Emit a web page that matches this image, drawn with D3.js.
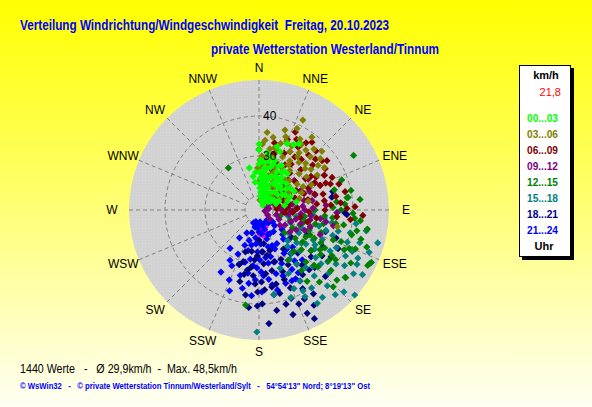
<!DOCTYPE html>
<html>
<head>
<meta charset="utf-8">
<script src="https://cdn.jsdelivr.net/npm/d3@7"></script>
<style>
body { margin: 0; }
svg { display: block; font-family: "Liberation Sans", Arial, sans-serif; }
</style>
</head>
<body>
<svg id="chart" width="592" height="407"></svg>
<script>
// compass labels, clockwise from north
const directions = ["N","NNE","NE","ENE","E","ESE","SE","SSE","S","SSW","SW","WSW","W","WNW","NW","NNW"];
// radial axis (km/h)
const speedDomain = [16.5, 49];
const speedTicks = [20, 30, 40];

const hourLabels = ["00...03","03...06","06...09","09...12","12...15","15...18","18...21","21...24"];
const hourColors = ["#00ff00","#808000","#800000","#800080","#008000","#008080","#000080","#0000ff"];

// [direction in degrees, speed in km/h]
const h0003 = [[0,33],[0,31.5],[16,33],[23,34.5],[28,35],[31,35.8],[20,32],[8,31],[12,30],[2,29],
  [347,27.3],[350,25],[352,23.5],[355,26],
  [0,28],[1,26],[2,24.5],[3,23],[4,25.5],[6,28.5],[7,27],[8,26],[10,23],[11,27],
  [12,25],[14,24],[15,27.5],[17,28.5],[18,25],[19,23],[20,21],[22,22.5],[24,21],
  [25,27],[26,26],[28,20],[28,24],[30,24.5],[31,27.5],[33,19],[34,28],[35,26.5],
  [35,22],[37,24],[38,28],[40,20.5],[42,24.5],[43,22.5],[46,26],[47,19.5],
  [50,22.5],[52,25],[55,26],[56,21],[60,24],[62,26.5],[65,22],[67,25],
  [70,21],[73,24],[78,26],[80,23],[5,21],[6,20],[12,21],[15,19],[25,18.5],
  [36,20],[40,18],[2,22],[9,24],[16,22],[21,25.5],[27,29],[32,25.5],[39,25.5],
  [57,23.5],[18,29.5],[24,28.5],[11,29],[47,24],[54,20]];
const h0306 = [[26,41.5],[0,31.7],[1,27],[9,21],[50,36.5],[57,36],[5,34],[3,30],[2,24],[358,27],
  [10,32],[18,34],[22,35],[28,33],[35,34],[15,30],[24,31],[32,31],[40,32],[45,33],
  [12,28],[20,28],[28,28.5],[38,29],[48,30],[8,25],[16,25.5],[26,26],[36,26],[46,27],
  [56,28],[14,22.5],[24,23],[34,23.5],[44,24],[60,25],[70,24],[30,21],[50,21],[5,19],
  [20,19.5],[64,31],[42,37],[30,37],[18,37.5],[6,36],[52,33],[33,30],[21,26.5],[102,36.5],
  [38,35.5],[14,32.5],[4,28],[27,24.5],
  [8,30],[17,32],[27,34.5],[36,33],[44,35],[48,32],[55,31],[62,29],[68,28],[74,27],
  [80,29],[20,36],[11,35],[3,33],[1,29],[31,27.5],[41,26.5],[51,26],[58,23],[65,21.5],
  [24,20.5],[16,21],[38,21.5],[7,22.5],[33,36],[53,35],[59,33.5],[47,38],[36,39],[25,39]];
const h0609 = [[25,38],[38,38],[13,33.7],[54,37.5],[66,36.5],[89,38.5],[93,42.5],[70,35.5],[68,34.5],[76,33],
  [84,31],[92,29],[100,27],[60,33],[50,34],[42,35],[32,35],[22,35.5],[15,31],[24,32],
  [34,32.5],[46,31],[56,30.5],[66,30],[78,29],[88,26],[20,29],[30,29.5],[40,28.5],[52,28],
  [62,27],[72,26],[82,24],[96,23],[26,26.5],[36,26],[46,25],[56,24.5],[66,23],[76,21.5],
  [88,21],[30,23],[45,22],[60,21],[18,27],[10,29],[5,24],[35,30.5],[48,35.5],[58,36],
  [80,36],[86,34.5],[74,31],[64,32],
  [28,36.5],[35,37],[44,37],[52,36.5],[62,35],[72,37.5],[78,38.5],[85,37],[95,36],[90,33],
  [82,33],[98,31],[104,29],[94,25],[86,23.5],[78,24],[70,28.5],[54,26],[44,27],[38,24],
  [50,23],[62,25],[72,23.5],[80,21],[28,33],[40,33],[57,32],[68,33],[96,39.5],[88,40.5]];
const h0912 = [[90,24.3],[78,28],[68,33],[101,29.5],[73,20.7],[100,18],[126,23],[86,33.3],[60,25],[55,22],
  [65,28],[80,25],[95,27],[110,25],[84,21],[70,23],[105,21],[115,22],[50,28],[58,31],
  [75,31],[88,30],[98,32],[108,30],[118,27],[92,36],[62,35],[45,25],[40,21],[130,20],
  [120,19],[82,19],[70,18.5],[95,22.5],[85,27.5],[112,33],[72,26],[102,35.5],
  [88,22],[93,25],[98,24],[104,26],[108,27.5],[114,29],[120,24],[125,26],[82,23],[76,24],
  [66,21],[60,19.5],[55,24.5],[90,28],[96,29.5],[80,30],[70,30],[64,32],[100,33.5],[86,26]];
const h1215 = [[82,39],[84,41.9],[95,40.5],[105,40.5],[109,45],[117,47],[132,42.7],[136,43.2],[113,41],[116,30.7],
  [123,34.7],[110,27.4],[123,39.3],[108,24.7],[324,29.5],[60,43.8],[188,40.5],[82,38.7],[88,35],[95,33],
  [100,36],[104,31],[112,36.5],[120,30],[128,33],[135,36],[140,30],[118,26],[128,28],[98,28],
  [90,30.5],[75,36],[78,40],[100,44],[126,38],[145,35],[150,31],[132,25],[106,22],[92,25],
  [86,38],[112,42.5],[100,38],[118,34],[70,38.5],[140,40],
  [92,40],[96,42],[102,41.5],[106,43],[111,38.5],[115,40],[120,43],[122,38],[130,40],[134,37],
  [138,34],[126,35.5],[117,32],[112,30],[106,28],[102,33],[96,35],[90,37],[84,36],[110,33],
  [126,30],[133,31],[146,38],[120,35.5],[128,44],[115,47.5]];
const h1518 = [[101,43.8],[105.5,47.3],[115.5,47.3],[131.6,48.5],[128,43.8],[116,44],[113,41.8],[110,40],[148,44],[151.5,39.5],
  [160,39.8],[181,47],[100,35],[105,32],[110,30],[115,34],[120,37],[125,40],[130,35],[135,31],
  [140,38],[145,33],[120,28],[128,26],[112,25],[100,26],[95,30],[105,37],[118,41],[124,45],
  [138,42],[142,28],[155,34],[150,37],[134,46],[108,43],[92,36],[98,41],[126,31],[132,40],
  [116,38],[122,33],[102,24],[170,38],[160,32],
  [104,40],[109,36],[114,42],[119,44.5],[123,42],[127,38],[131,37],[136,36],[141,35],[146,40],
  [152,41],[156,38],[148,31],[143,30],[137,27],[131,29],[125,33.5],[119,32],[113,28],[107,34],
  [103,28],[97,33],[111,46],[122,47],[138,45],[144,43.5],[128,30]];
const h1821 = [[153,47],[170.5,36],[166,38],[191,31.8],[181,37],[153,41.5],[198,27.5],[80,35],[93,38.5],[116,38.5],
  [123,38],[76,35.5],[92,38],[175,30],[185,33],[178,40],[170,42],[160,40],[160,35],[150,37],
  [145,33],[165,27],[172,25],[180,24],[190,27],[195,35],[186,41],[156,30],[148,28],[140,36],
  [135,40],[138,31],[128,33],[162,44],[175,45],[185,29],[200,31],[150,44],[130,27],[118,30],
  [108,34],[168,32],[178,34.5],[158,37.5],
  [164,30],[170,28],[176,27],[182,28],[188,31],[193,33],[183,35],[176,36.5],[170,38],[164,41],
  [157,42],[151,39],[146,36],[142,34],[136,36.5],[132,34],[126,36],[144,30],[152,32],[159,33],
  [174,32.5],[181,40.5],[189,38],[197,30],[167,35.5],[155,45],[147,41.5],[120,35],[110,37]];
const h2124 = [[217,28.5],[211.5,34.7],[205.5,28.7],[196,33.5],[192,36.5],[193,20.9],[141,19.7],[198,24.5],[200,31],[190,29],
  [185,25],[180,22],[175,27],[170,30],[165,33],[160,26],[155,23],[150,29],[145,32],[140,26],
  [135,22],[160,36],[172,34],[182,31],[188,35],[178,37],[208,23],[215,25],[210,31],[200,38],
  [168,20.5],[150,20],[130,24],[155,36],[165,24],[188,20],[195,27],[185,38],[178,32],[148,35],
  [138,29],[203,20],[158,27],[134,27],[151,33.5],[179,29],[166,28.5],[190,32.5],
  [160,23],[166,26],[172,28.5],[177,25],[182,27],[187,23.5],[192,25.5],[197,22.5],[202,26],[206,32],
  [203,35.5],[195,30],[186,30.5],[176,33],[170,35.5],[163,30],[157,31],[152,26],[146,23],[142,30],
  [136,25],[131,21],[144,20.5],[156,20],[175,19.5],[185,21],[195,19.5],[160,34],[167,37],[152,36],
  [145,28.5],[139,33],[183,34],[174,22.5],[164,21.5]];
// the few pink marks near the middle
const highlight = [[175,21.5],[165,22],[170,23],[160,21],[178,22.5]];

const cx = 259, cy = 210, outerR = 130;
const svg = d3.select("#chart");
const defs = svg.append("defs");

const bg = defs.append("linearGradient").attr("id", "bg")
  .attr("x1", 0).attr("y1", 0).attr("x2", 0).attr("y2", 1);
bg.append("stop").attr("offset", "0%").attr("stop-color", "#ffff00");
bg.append("stop").attr("offset", "45%").attr("stop-color", "#ffff66");
bg.append("stop").attr("offset", "100%").attr("stop-color", "#fffff4");

const dots = defs.append("pattern").attr("id", "dots")
  .attr("width", 3).attr("height", 3).attr("patternUnits", "userSpaceOnUse");
dots.append("rect").attr("width", 3).attr("height", 3).attr("fill", "#d2d2d2");
dots.append("rect").attr("width", 1).attr("height", 1).attr("fill", "#dadada");

svg.append("rect").attr("width", 592).attr("height", 407).attr("fill", "url(#bg)");

// titles
svg.append("text").attr("x", 20).attr("y", 30)
  .attr("font-size", 14).attr("font-weight", "bold").attr("fill", "#0000ff")
  .attr("textLength", 369).attr("lengthAdjust", "spacingAndGlyphs")
  .style("white-space", "pre")
  .text("Verteilung Windrichtung/Windgeschwindigkeit  Freitag, 20.10.2023");
svg.append("text").attr("x", 211).attr("y", 54)
  .attr("font-size", 14).attr("font-weight", "bold").attr("fill", "#0000ff")
  .attr("textLength", 228).attr("lengthAdjust", "spacingAndGlyphs")
  .text("private Wetterstation Westerland/Tinnum");

const r = d3.scaleLinear().domain(speedDomain).range([0, outerR]);
const ang = d3.scaleLinear().domain([0, 360]).range([0, 2 * Math.PI]);
const px = (d, v) => r(v) * Math.sin(ang(d));
const py = (d, v) => -r(v) * Math.cos(ang(d));

const g = svg.append("g").attr("transform", `translate(${cx},${cy})`);
g.append("circle").attr("r", outerR).attr("fill", "url(#dots)");

// grid
g.selectAll(".ring").data(speedTicks).enter().append("circle")
  .attr("class", "ring").attr("r", d => r(d))
  .attr("fill", "none").attr("stroke", "#808080").attr("stroke-dasharray", "4,3");
g.selectAll(".spoke").data(directions).enter().append("line")
  .attr("class", "spoke")
  .attr("x1", (d, i) => px(i * 22.5, speedTicks[0])).attr("y1", (d, i) => py(i * 22.5, speedTicks[0]))
  .attr("x2", (d, i) => px(i * 22.5, speedDomain[1])).attr("y2", (d, i) => py(i * 22.5, speedDomain[1]))
  .attr("stroke", "#808080").attr("stroke-dasharray", "4,3");
// the innermost tick label sits under the marks
g.append("text").attr("x", 4).attr("y", -r(speedTicks[0]) + 4)
  .attr("font-size", 12).attr("fill", "#000").text(speedTicks[0]);

// compass labels
g.selectAll(".dir").data(directions).enter().append("text")
  .attr("x", (d, i) => 147 * Math.sin(ang(i * 22.5)))
  .attr("y", (d, i) => -142 * Math.cos(ang(i * 22.5)) + 4)
  .attr("text-anchor", "middle").attr("font-size", 12).attr("fill", "#000")
  .text(d => d);

// stacking order of the hour groups, bottom to top
const groups = [
  { data: highlight, color: "#ff00ff" },
  { data: h2124, color: hourColors[7] },
  { data: h1821, color: hourColors[6] },
  { data: h1518, color: hourColors[5] },
  { data: h1215, color: hourColors[4] },
  { data: h0912, color: hourColors[3] },
  { data: h0609, color: hourColors[2] },
  { data: h0306, color: hourColors[1] },
  { data: h0003, color: hourColors[0] }
];
const diamond = "M0,-3.6L3.6,0L0,3.6L-3.6,0Z";
groups.forEach(grp => {
  g.append("g").selectAll("path").data(grp.data).enter().append("path")
    .attr("d", diamond)
    .attr("transform", d => `translate(${px(d[0], d[1])},${py(d[0], d[1])})`)
    .attr("fill", grp.color);
});

// outer tick labels stay readable on top
g.selectAll(".tick").data(speedTicks.slice(1)).enter().append("text")
  .attr("x", 4).attr("y", d => -r(d) + 4)
  .attr("font-size", 12).attr("fill", "#000").text(d => d);

// legend
const lg = svg.append("g");
lg.append("rect").attr("x", 522).attr("y", 68).attr("width", 52).attr("height", 192).attr("fill", "#000");
lg.append("rect").attr("x", 519.5).attr("y", 65.5).attr("width", 51).attr("height", 191)
  .attr("fill", "#fff").attr("stroke", "#000");
lg.append("text").attr("x", 546).attr("y", 79).attr("text-anchor", "middle")
  .attr("font-size", 11).attr("font-weight", "bold").text("km/h");
lg.append("text").attr("x", 561).attr("y", 96).attr("text-anchor", "end")
  .attr("font-size", 11).attr("fill", "#ff0000").text("21,8");
lg.selectAll(".hour").data(hourLabels).enter().append("text")
  .attr("x", 527).attr("y", (d, i) => 122 + i * 16)
  .attr("font-size", 11).attr("font-weight", "bold")
  .attr("textLength", 31).attr("lengthAdjust", "spacingAndGlyphs")
  .attr("fill", (d, i) => hourColors[i]).text(d => d);
lg.append("text").attr("x", 544).attr("y", 250).attr("text-anchor", "middle")
  .attr("font-size", 11).attr("font-weight", "bold").text("Uhr");

// footer
svg.append("text").attr("x", 20).attr("y", 373).attr("font-size", 12)
  .attr("textLength", 217).attr("lengthAdjust", "spacingAndGlyphs")
  .style("white-space", "pre")
  .text("1440 Werte   -   Ø 29,9km/h  -  Max. 48,5km/h");
svg.append("text").attr("x", 20).attr("y", 389).attr("font-size", 8.5).attr("font-weight", "bold")
  .attr("fill", "#0000ff").attr("textLength", 350).attr("lengthAdjust", "spacingAndGlyphs")
  .style("white-space", "pre")
  .text("© WsWin32   -   © private Wetterstation Tinnum/Westerland/Sylt   -   54°54'13\" Nord; 8°19'13\" Ost");
</script>
</body>
</html>
